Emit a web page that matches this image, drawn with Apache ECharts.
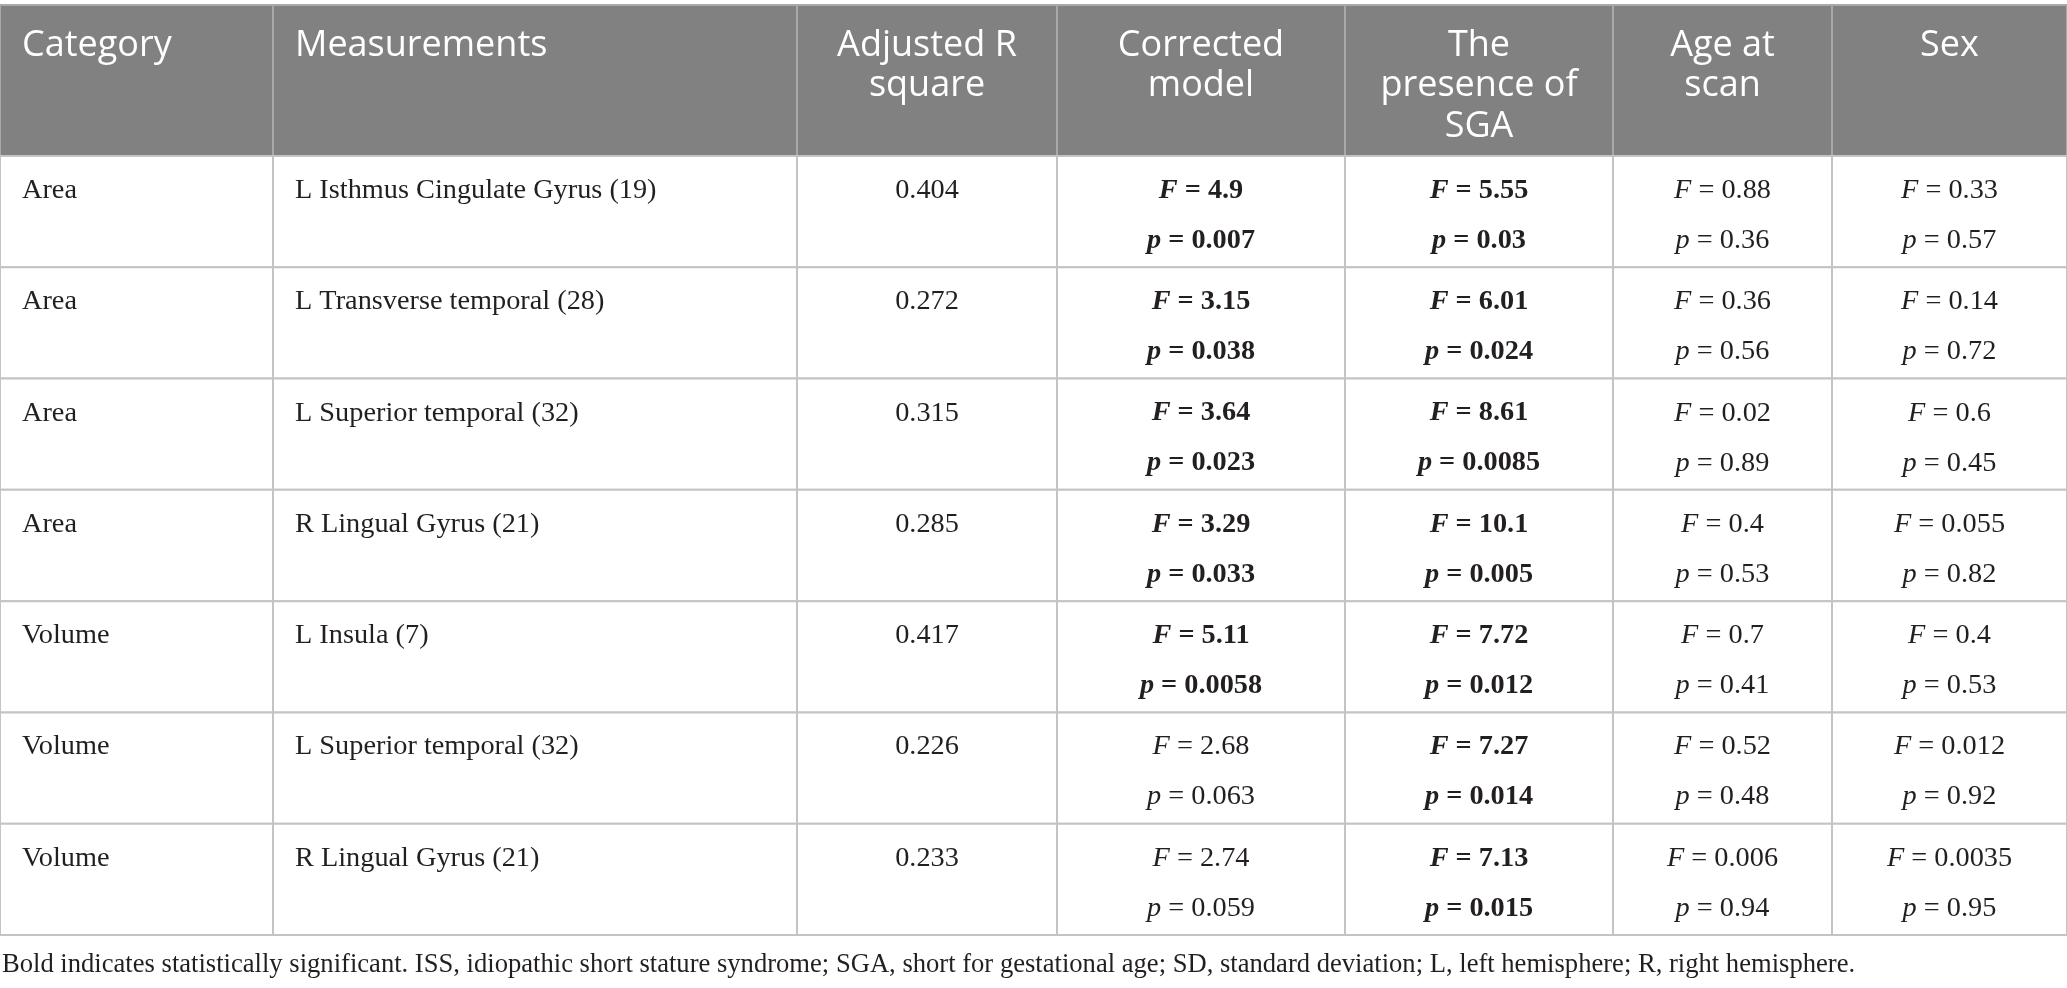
<!DOCTYPE html>
<html>
<head>
<meta charset="utf-8">
<script src="https://cdn.jsdelivr.net/npm/echarts@6/dist/echarts.min.js"></script>
<style>
  html, body { margin: 0; padding: 0; background: #fff; }
  #root { width: 2067px; height: 988px; }
</style>
</head>
<body>
<div id="root"></div>
<script>
// table content
var headers = ['Category', 'Measurements', 'Adjusted R\nsquare', 'Corrected\nmodel',
  'The\npresence of\nSGA', 'Age at\nscan', 'Sex'];
var categories = ['Area', 'Area', 'Area', 'Area', 'Volume', 'Volume', 'Volume'];
var measurements = ['L Isthmus Cingulate Gyrus (19)', 'L Transverse temporal (28)',
  'L Superior temporal (32)', 'R Lingual Gyrus (21)', 'L Insula (7)',
  'L Superior temporal (32)', 'R Lingual Gyrus (21)'];
var adjR2 = ['0.404', '0.272', '0.315', '0.285', '0.417', '0.226', '0.233'];
var corrF = ['4.9', '3.15', '3.64', '3.29', '5.11', '2.68', '2.74'];
var corrP = ['0.007', '0.038', '0.023', '0.033', '0.0058', '0.063', '0.059'];
var sgaF = ['5.55', '6.01', '8.61', '10.1', '7.72', '7.27', '7.13'];
var sgaP = ['0.03', '0.024', '0.0085', '0.005', '0.012', '0.014', '0.015'];
var ageF = ['0.88', '0.36', '0.02', '0.4', '0.7', '0.52', '0.006'];
var ageP = ['0.36', '0.56', '0.89', '0.53', '0.41', '0.48', '0.94'];
var sexF = ['0.33', '0.14', '0.6', '0.055', '0.4', '0.012', '0.0035'];
var sexP = ['0.57', '0.72', '0.45', '0.82', '0.53', '0.92', '0.95'];
var footnote = 'Bold indicates statistically significant. ISS, idiopathic short stature syndrome; ' +
  'SGA, short for gestational age; SD, standard deviation; L, left hemisphere; R, right hemisphere.';

// layout (pixels in axis units)
var colEdges = [0, 273, 797, 1057, 1345, 1613, 1832, 2067];
var headerH = 151;
var rowH = 111.29;
var tableH = headerH + rowH * categories.length;

var serif = '"Liberation Serif", "Times New Roman", serif';
var sans = '"Open Sans", "Noto Sans", sans-serif';
var ink = '#231f20';
var bodySize = 28.3;

function tok(weight, style) {
  return { fontFamily: serif, fontSize: bodySize, fontWeight: weight, fontStyle: style,
    fill: ink, lineHeight: 50 };
}
var richStyles = {
  fb: tok('bold', 'italic'),
  b: tok('bold', 'normal'),
  fi: tok('normal', 'italic'),
  n: tok('normal', 'normal')
};

function statText(f, p) {
  var sig = parseFloat(p) < 0.05;
  var it = sig ? 'fb' : 'fi', nm = sig ? 'b' : 'n';
  return '{' + it + '|F}{' + nm + '| = ' + f + '}\n{' + it + '|p}{' + nm + '| = ' + p + '}';
}

// cells: [col, row]  row -1 = header
var cells = [];
headers.forEach(function (h, c) {
  cells.push({ value: [c, -1], text: h, header: true });
});
categories.forEach(function (cat, r) {
  var row = [cat, measurements[r], adjR2[r],
    statText(corrF[r], corrP[r]), statText(sgaF[r], sgaP[r]),
    statText(ageF[r], ageP[r]), statText(sexF[r], sexP[r])];
  row.forEach(function (t, c) {
    cells.push({ value: [c, r], text: t, rich: c >= 3 });
  });
});

function renderCell(params, api) {
  var cell = cells[params.dataIndex];
  var c = cell.value[0], r = cell.value[1];
  var y0 = r < 0 ? 0 : headerH + r * rowH;
  var y1 = r < 0 ? headerH : y0 + rowH;
  var p0 = api.coord([colEdges[c], y0]);
  var p1 = api.coord([colEdges[c + 1], y1]);
  var x = Math.min(p0[0], p1[0]), y = Math.min(p0[1], p1[1]);
  var w = Math.abs(p1[0] - p0[0]), h = Math.abs(p1[1] - p0[1]);
  var left = c < 2;
  var tx = left ? x + 22 : x + w / 2;
  var textStyle;
  if (cell.header) {
    textStyle = { text: cell.text, x: tx, y: y + 20, align: left ? 'left' : 'center',
      verticalAlign: 'top', fontFamily: sans, fontSize: 36, lineHeight: 40.5, fill: '#fff' };
  } else if (cell.rich) {
    textStyle = { text: cell.text, rich: richStyles, x: tx, y: y + 9.5, align: 'center',
      verticalAlign: 'top', fontFamily: serif, fontSize: bodySize, lineHeight: 50, fill: ink };
  } else {
    textStyle = { text: cell.text, x: tx, y: y + 9.5, align: left ? 'left' : 'center',
      verticalAlign: 'top', fontFamily: serif, fontSize: bodySize, lineHeight: 50, fill: ink };
  }
  return {
    type: 'group',
    children: [{
      type: 'rect',
      shape: { x: x, y: y, width: w, height: h },
      style: {
        fill: cell.header ? '#808180' : '#fff',
        stroke: cell.header ? '#a9a9a9' : '#c4c4c4',
        lineWidth: 2
      }
    }, {
      type: 'text',
      style: textStyle
    }]
  };
}

var chart = echarts.init(document.getElementById('root'));
chart.setOption({
  animation: false,
  title: {
    text: footnote,
    left: 0,
    top: 952,
    padding: [0, 0, 0, 2],
    textStyle: { fontFamily: serif, fontSize: 26.6, fontWeight: 'normal', color: ink }
  },
  grid: { left: 0, right: 0, top: 5, height: tableH },
  xAxis: { type: 'value', min: 0, max: colEdges[colEdges.length - 1], show: false },
  yAxis: { type: 'value', min: 0, max: tableH, inverse: true, show: false },
  series: [{
    type: 'custom',
    renderItem: renderCell,
    data: cells.map(function (d) { return d.value; }),
    clip: false
  }]
});
</script>
</body>
</html>
